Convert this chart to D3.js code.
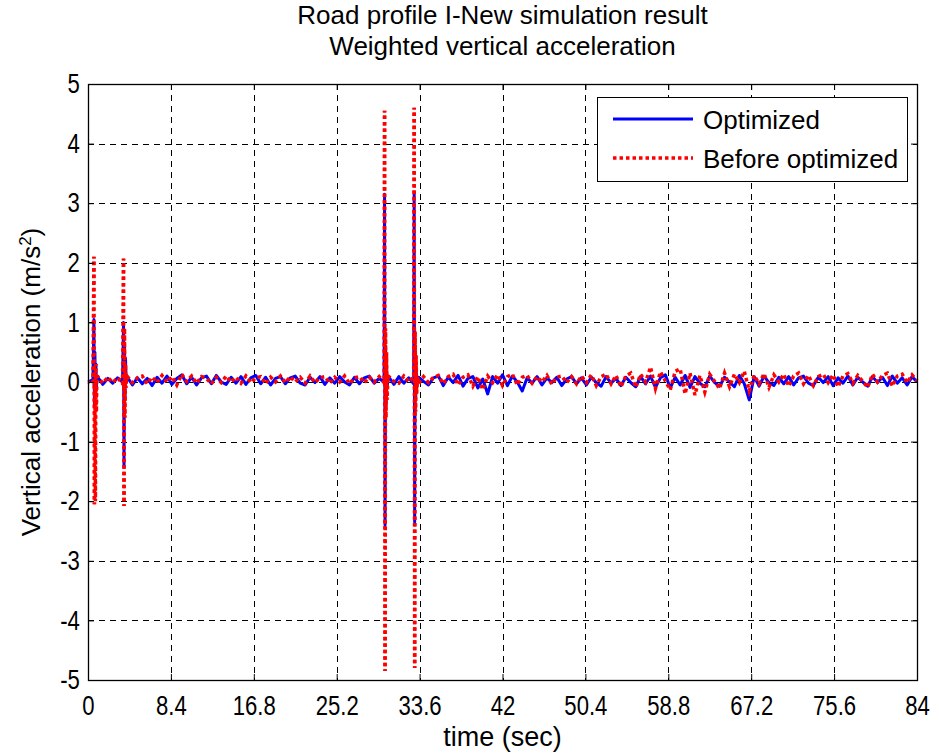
<!DOCTYPE html>
<html><head><meta charset="utf-8">
<script src="https://cdn.jsdelivr.net/npm/d3@7"></script>
<style>
body{margin:0;background:#fff}
text{font-family:"Liberation Sans",Arial,Helvetica,sans-serif;fill:#000}
</style>
</head><body>
<svg id="chart" width="939" height="755"></svg>
<script>
// ---- data ----
const titleLines = ["Road profile I-New simulation result", "Weighted vertical acceleration"];
const xTicks = [0, 8.4, 16.8, 25.2, 33.6, 42, 50.4, 58.8, 67.2, 75.6, 84];
const yTicks = [-5, -4, -3, -2, -1, 0, 1, 2, 3, 4, 5];
const seriesNames = ["Optimized", "Before optimized"];

// base samples every 0.5 s from 0 to 84 s
const baseTime = d3.range(0, 84.001, 0.5);
const optimizedBase = [
  0, 0.04, 0.08, -0.04, 0.06, -0.02, 0.07, 0.0, 0.08, -0.05,
  0.07, -0.03, 0.06, -0.06, 0.08, -0.02, 0.1, -0.04, 0.06, 0.12,
  -0.03, 0.08, -0.05, 0.07, 0.1, -0.03, 0.11, 0.0, -0.04, 0.08,
  -0.02, 0.09, -0.04, 0.07, 0.11, -0.03, 0.08, -0.05, 0.06, 0.09,
  -0.03, 0.07, 0.1, -0.02, -0.05, 0.08, -0.01, 0.09, -0.04, 0.07,
  -0.02, 0.09, 0.0, -0.05, 0.08, -0.03, 0.07, 0.1, -0.02, 0.06,
  0.0, 0.08, -0.04, 0.09, -0.02, 0.07, -0.03, 0.08, 0.01, -0.05,
  0.07, 0.1, -0.06, 0.08, -0.01, 0.11, -0.07, 0.06, 0.09, -0.1,
  0.05, -0.2, 0.09, -0.02, 0.12, -0.06, 0.1, 0.0, -0.15, 0.07,
  -0.02, 0.09, -0.05, 0.07, -0.01, 0.08, -0.06, 0.05, 0.09, -0.03,
  0.07, -0.05, 0.08, -0.01, -0.07, 0.09, -0.02, 0.06, -0.06, 0.08,
  -0.01, -0.08, 0.09, -0.03, 0.1, -0.09, 0.07, 0.12, -0.1, 0.08,
  -0.05, 0.11, -0.09, 0.09, -0.02, -0.08, 0.1, -0.01, -0.07, 0.08,
  0.0, -0.08, 0.11, -0.03, -0.3, 0.09, -0.07, 0.1, -0.01, -0.06,
  0.08, -0.03, 0.09, -0.05, 0.07, 0.1, -0.02, -0.06, 0.08, -0.01,
  0.09, -0.06, 0.07, -0.02, 0.1, -0.05, 0.08, 0.0, -0.07, 0.09,
  -0.01, 0.08, -0.06, 0.1, -0.02, 0.07, -0.05, 0.09, 0.0
];
const beforeBase = [
  0, -0.02, 0.09, -0.02, 0.08, -0.01, 0.07, -0.03, 0.09, -0.01,
  0.07, 0.1, -0.03, 0.08, -0.01, 0.11, 0.0, 0.09, -0.05, 0.13,
  0.01, 0.1, -0.02, 0.09, 0.06, -0.03, 0.08, -0.01, 0.1, 0.0,
  0.08, -0.02, 0.1, -0.01, 0.07, 0.09, -0.03, 0.08, 0.0, 0.1,
  -0.01, 0.09, 0.0, 0.08, -0.02, 0.1, -0.01, 0.07, 0.09, -0.02,
  0.08, 0.0, 0.1, -0.03, 0.07, 0.09, -0.01, 0.08, 0.0, 0.09,
  -0.01, 0.09, 0.01, -0.02, 0.1, 0.0, 0.08, -0.03, 0.09, -0.01,
  0.08, 0.11, -0.03, 0.09, 0.13, -0.05, 0.08, 0.12, -0.07, 0.09,
  -0.13, 0.1, -0.01, 0.12, -0.06, 0.09, 0.13, -0.05, 0.08, 0.11,
  -0.02, 0.09, 0.0, 0.11, -0.04, 0.08, 0.1, -0.01, 0.09, -0.03,
  0.1, -0.01, 0.12, -0.06, 0.09, 0.13, -0.03, 0.11, -0.08, 0.1,
  0.15, -0.09, 0.13, 0.0, 0.25, -0.11, 0.17, 0.02, -0.13, 0.18,
  0.22, -0.2, 0.15, -0.22, 0.11, -0.17, 0.13, 0.01, -0.11, 0.15,
  -0.08, 0.13, -0.01, 0.18, -0.15, 0.11, -0.03, 0.14, -0.09, 0.12,
  0.0, 0.13, -0.07, 0.1, 0.15, -0.03, 0.11, -0.06, 0.09, 0.13,
  -0.01, 0.12, -0.08, 0.1, 0.14, -0.02, 0.11, 0.01, -0.09, 0.13,
  0.0, 0.11, 0.15, -0.07, 0.1, 0.13, -0.01, 0.12, 0.02
];

// bump events (dense samples)
const spikeTime = [
  0.6, 0.65, 0.7, 0.75, 0.8, 0.85, 0.9,
  3.6, 3.65, 3.7, 3.75, 3.8, 3.85, 3.9,
  30.05, 30.1, 30.15, 30.2, 30.25, 30.3, 30.4,
  33.05, 33.1, 33.15, 33.2, 33.25, 33.3, 33.4
];
const optimizedSpike = [
  1.05, -0.4, 0.5, -0.2, 0.3, -0.1, 0.05,
  1.0, -1.4, 0.6, -0.3, 0.4, 0.1, 0.0,
  3.15, -2.4, 0.6, -0.4, 0.3, -0.1, 0.05,
  3.15, -2.35, 0.55, -0.3, 0.25, -0.1, 0.05
];
const beforeSpike = [
  2.1, -2.05, -0.1, -2.0, 0.3, -0.5, 0.1,
  2.07, -2.08, 0.9, -0.6, 0.3, -0.1, 0.05,
  4.55, -4.85, 0.9, -0.6, 0.5, -0.3, 0.1,
  4.6, -4.8, 0.85, -0.5, 0.45, -0.2, 0.1
];

function merge(baseV, spikeV) {
  const pts = baseTime.map((t, i) => [t, baseV[i]]);
  spikeTime.forEach((t, i) => pts.push([t, spikeV[i]]));
  return pts.sort((a, b) => a[0] - b[0]);
}
const optimizedData = merge(optimizedBase, optimizedSpike);
const beforeData = merge(beforeBase, beforeSpike);

// ---- layout ----
const L = 88, R = 917, T = 84, B = 680;
const svg = d3.select("#chart");
const x = d3.scaleLinear().domain([0, 84]).range([L, R]);
const y = d3.scaleLinear().domain([-5, 5]).range([B, T]);
const fmt = d => String(+d.toFixed(1));
const FONT = "Liberation Sans, Arial, sans-serif";

// grid
const grid = svg.append("g").attr("stroke", "#000").attr("stroke-width", 1).attr("stroke-dasharray", "6,5").attr("fill", "none");
xTicks.slice(1, -1).forEach(v => grid.append("line").attr("x1", Math.round(x(v)) + 0.5).attr("x2", Math.round(x(v)) + 0.5).attr("y1", T).attr("y2", B));
yTicks.slice(1, -1).forEach(v => grid.append("line").attr("y1", Math.round(y(v)) + 0.5).attr("y2", Math.round(y(v)) + 0.5).attr("x1", L).attr("x2", R));

// data lines
const line = d3.line().x(d => x(d[0])).y(d => y(d[1]));
svg.append("path").datum(optimizedData).attr("d", line).attr("fill", "none").attr("stroke", "#0000ff").attr("stroke-width", 3).attr("stroke-linejoin", "round");

// dotted red line: split at the turning points of each large swing so the dots of
// the up- and down-strokes line up (as in a MATLAB dotted line)
const P = 6.5, DASH = 3.5;
const splitIdx = [];
beforeData.forEach((d, i) => {
  if (i === 0 || i === beforeData.length - 1) return;
  const prev = beforeData[i - 1][1], next = beforeData[i + 1][1];
  if ((d[1] < -1 && prev > 1) || (d[1] > 1 && next < -1)) splitIdx.push(i);
});
const pieces = [];
let s0 = 0;
splitIdx.forEach(i => { pieces.push(beforeData.slice(s0, i + 1)); s0 = i; });
pieces.push(beforeData.slice(s0));
const redG = svg.append("g");
pieces.forEach(p => {
  const path = redG.append("path").datum(p).attr("d", line).attr("fill", "none").attr("stroke", "#ff0000").attr("stroke-width", 3.5);
  const len = path.node().getTotalLength();
  const n = Math.max(1, Math.round(len / P));
  const per = len / n, dash = per * DASH / P;
  path.attr("stroke-dasharray", `${dash},${per - dash}`).attr("stroke-dashoffset", dash / 2);
});

// axes
const xAxisB = d3.axisBottom(x).tickValues(xTicks).tickFormat(fmt).tickSizeInner(-6).tickSizeOuter(0).tickPadding(16);
const yAxisL = d3.axisLeft(y).tickValues(yTicks).tickFormat(fmt).tickSizeInner(-6).tickSizeOuter(0).tickPadding(10);
const xAxisT = d3.axisTop(x).tickValues(xTicks).tickFormat("").tickSizeInner(-6).tickSizeOuter(0);
const yAxisR = d3.axisRight(y).tickValues(yTicks).tickFormat("").tickSizeInner(-6).tickSizeOuter(0);
function styleAxis(g) {
  g.select(".domain").remove();
  g.selectAll("line").attr("stroke", "#000");
  g.selectAll("text").attr("font-size", 27).attr("font-family", FONT).attr("fill", "#000").attr("transform", "scale(0.82,1)");
}
svg.append("g").attr("transform", `translate(0,${B})`).call(xAxisB).call(styleAxis);
svg.append("g").attr("transform", `translate(${L},0)`).call(yAxisL).call(styleAxis);
svg.append("g").attr("transform", `translate(0,${T})`).call(xAxisT).call(styleAxis);
svg.append("g").attr("transform", `translate(${R},0)`).call(yAxisR).call(styleAxis);
svg.append("rect").attr("x", L + 0.5).attr("y", T + 0.5).attr("width", R - L).attr("height", B - T).attr("fill", "none").attr("stroke", "#000").attr("stroke-width", 1.3);

// titles
svg.append("text").attr("x", (L + R) / 2).attr("y", 24).attr("text-anchor", "middle").attr("font-size", 26).text(titleLines[0]);
svg.append("text").attr("x", (L + R) / 2).attr("y", 55).attr("text-anchor", "middle").attr("font-size", 26).text(titleLines[1]);
svg.append("text").attr("x", (L + R) / 2).attr("y", 746).attr("text-anchor", "middle").attr("font-size", 27).text("time (sec)");
const yl = svg.append("text").attr("transform", `translate(40,${(T + B) / 2}) rotate(-90)`).attr("text-anchor", "middle").attr("font-size", 26);
yl.append("tspan").text("Vertical acceleration (m/s");
yl.append("tspan").attr("baseline-shift", "super").attr("font-size", 17).text("2");
yl.append("tspan").text(")");

// legend
const lg = svg.append("g");
lg.append("rect").attr("x", 597.5).attr("y", 97.5).attr("width", 310).attr("height", 84).attr("fill", "#fff").attr("stroke", "#000").attr("stroke-width", 1);
lg.append("line").attr("x1", 613).attr("x2", 693).attr("y1", 119).attr("y2", 119).attr("stroke", "#0000ff").attr("stroke-width", 3);
lg.append("line").attr("x1", 613).attr("x2", 693).attr("y1", 158).attr("y2", 158).attr("stroke", "#ff0000").attr("stroke-width", 3.5).attr("stroke-dasharray", "3.5,3");
lg.append("text").attr("x", 703).attr("y", 129).attr("font-size", 26).text(seriesNames[0]);
lg.append("text").attr("x", 703).attr("y", 168).attr("font-size", 26).text(seriesNames[1]);
</script>
</body></html>
